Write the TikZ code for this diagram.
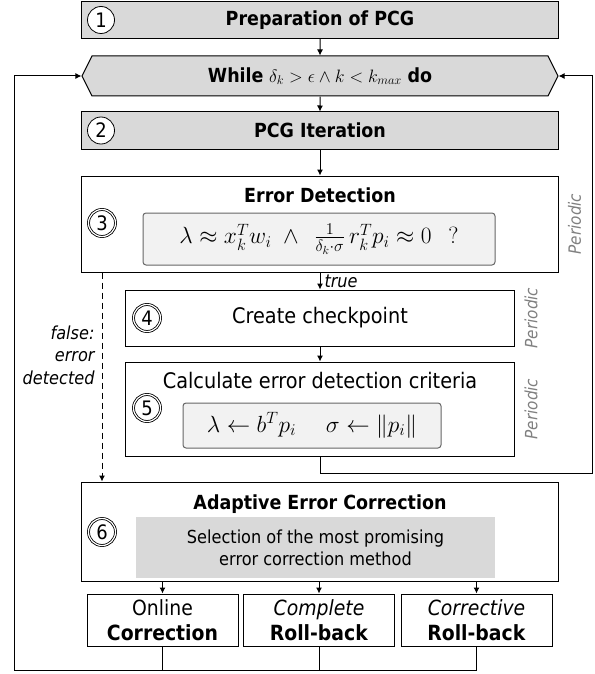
\RequirePackage{fix-cm}
\documentclass[tikz,border=0pt]{standalone}
\usepackage{amsmath}
\usepackage{fontspec}
\setmainfont{DejaVu Sans Condensed}
\usepackage{xcolor}
\usetikzlibrary{arrows.meta,shapes.symbols}

\definecolor{boxgray}{HTML}{D9D9D9}
\definecolor{critgray}{HTML}{F2F2F2}
\definecolor{notegray}{HTML}{808080}

\begin{document}
\begin{tikzpicture}[x=1bp, y=-1bp, line width=1bp, >={Latex[length=6bp,width=6bp]},
    every node/.style={font=\fontsize{21.5}{25}\selectfont},
    stepbox/.style={draw, rectangle, minimum width=476bp, minimum height=37bp, inner sep=0pt},
    graybox/.style={stepbox, fill=boxgray, font=\fontsize{19.5}{23}\selectfont\bfseries},
    loopbox/.style={draw, fill=boxgray, signal, signal to=west and east, signal pointer angle=127,
        minimum width=476bp, minimum height=40bp, inner sep=0pt, font=\fontsize{19.5}{23}\selectfont},
    titletext/.style={inner sep=0pt, font=\fontsize{19.5}{23}\selectfont\bfseries},
    critbox/.style={draw=black!60, fill=critgray, rounded corners=3bp, inner sep=0pt,
        font=\fontsize{23.5}{27}\selectfont},
    selbox/.style={fill=boxgray, minimum width=359bp, minimum height=61bp, inner sep=0pt,
        align=center, font=\fontsize{18}{22}\selectfont},
    corrbox/.style={draw, minimum width=151bp, minimum height=52bp, inner sep=0pt,
        align=center, font=\fontsize{21}{25}\selectfont},
    numcirc/.style={circle, draw, fill=white, minimum size=27bp, inner sep=0pt, line width=0.8bp,
        font=\fontsize{20}{24}\selectfont},
    numcircd/.style={numcirc, double, double distance=1.2bp},
    periodic/.style={rotate=90, anchor=north, inner sep=9bp, text=notegray,
        font=\fontsize{17}{20}\selectfont\itshape},
    notelabel/.style={inner sep=0pt, font=\fontsize{18}{22.5}\selectfont\itshape}]
    \useasboundingbox (0,0) rectangle (595,674);

    % main steps
    \node[graybox] (prep) at (320,20) {Preparation of PCG};
    \node[numcirc] (n1) at (101,20) {1};
    \node[loopbox] (loop) at (320,76)
        {\textbf{While} {\fontsize{18}{20}\selectfont$\delta_k > \epsilon \wedge k < k_{max}$} \textbf{do}};
    \node[graybox] (iter) at (320,130.5) {PCG Iteration};
    \node[numcirc] (n2) at (101,130.5) {2};

    % error detection
    \node[stepbox, minimum height=96bp] (detect) at (320,224) {};
    \node[titletext] (detecttitle) at (320,195) {Error Detection};
    \node[critbox, minimum width=352bp, minimum height=52bp] (detectcrit) at (319,239)
        {$\lambda \approx x_k^T w_i \;\wedge\;\, \frac{1}{\delta_k\cdot\sigma}\, r_k^T p_i \approx 0 \;\;\, ?$};
    \node[numcircd] (n3) at (102,223) {3};

    % checkpoint and criteria
    \node[stepbox, minimum width=389bp, minimum height=56bp] (ckpt) at (320,318) {Create checkpoint};
    \node[numcircd] (n4) at (147,318) {4};
    \node[stepbox, minimum width=389bp, minimum height=94bp] (calc) at (320,409) {};
    \node[inner sep=0pt] (calctitle) at (320,381) {Calculate error detection criteria};
    \node[critbox, minimum width=258bp, minimum height=45bp] (calccrit) at (312,425.5)
        {$\lambda \leftarrow b^T p_i \quad\; \sigma \leftarrow \lVert p_i \rVert$};
    \node[numcircd] (n5) at (147,408) {5};

    % error correction
    \node[stepbox, minimum height=99bp] (adapt) at (320,531.5) {};
    \node[titletext] (adapttitle) at (320,504) {Adaptive Error Correction};
    \node[selbox] (adaptsel) at (315.5,547.5) {Selection of the most promising\\error correction method};
    \node[numcircd] (n6) at (102,532) {6};
    \node[corrbox] (online) at (162.5,620) {Online\\\textbf{Correction}};
    \node[corrbox] (complete) at (319,620) {\textit{Complete}\\\textbf{Roll-back}};
    \node[corrbox] (corrective) at (476.5,620) {\textit{Corrective}\\\textbf{Roll-back}};

    \foreach \b in {detect,ckpt,calc}
        \node[periodic] (per-\b) at (\b.east) {Periodic};

    % connectors
    \draw[->] (prep) -- (loop);
    \draw[->] (loop) -- (iter);
    \draw[->] (iter) -- (detect);
    \draw[->] (detect) -- (ckpt) node[midway, right, notelabel, xshift=4bp] (truelabel) {true};
    \draw[->] (ckpt) -- (calc);
    \draw[->, dash pattern=on 6bp off 4bp] (n3 |- detect.south) -- (n3 |- adapt.north);
    \node[notelabel, anchor=east, align=right] (falselabel) at (95,355) {false:\\error\\detected};
    \foreach \b in {online,complete,corrective}
        \draw[->] (\b.north |- adapt.south) -- (\b.north);

    % loop back
    \coordinate (rightbot) at (592,473);
    \coordinate (leftbot) at (14,670);
    \draw[->] (calc.south) |- (rightbot) |- (loop.east);
    \draw (online.south) -- (online.south |- leftbot);
    \draw (complete.south) -- (complete.south |- leftbot);
    \draw[->] (corrective.south) |- (leftbot) |- (loop.west);
\end{tikzpicture}
\end{document}
